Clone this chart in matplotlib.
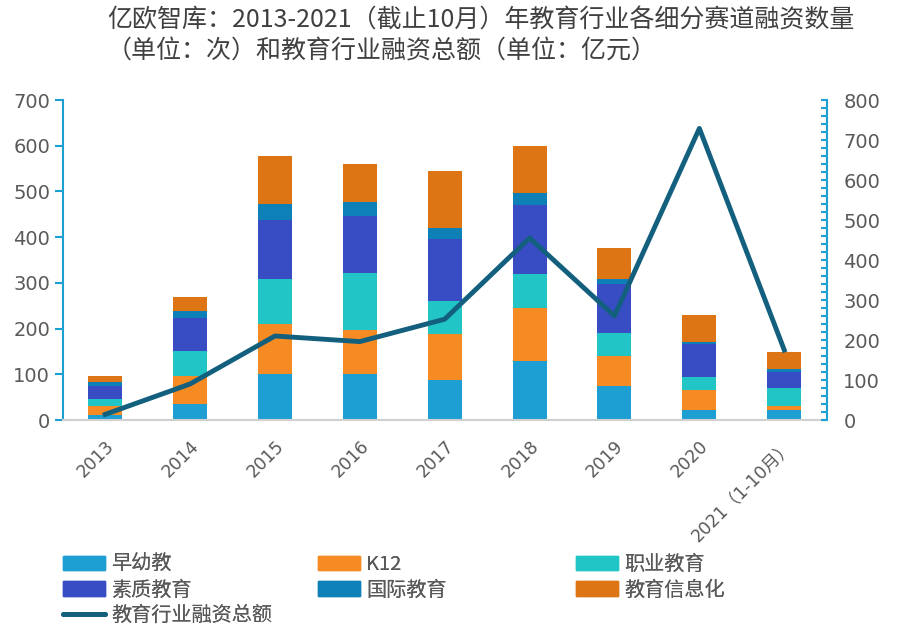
import numpy as np
import matplotlib.pyplot as plt
from matplotlib.lines import Line2D
from matplotlib.patches import Patch

plt.rcParams['font.family'] = ['Noto Sans CJK SC', 'DejaVu Sans']

years = ["2013", "2014", "2015", "2016", "2017", "2018", "2019", "2020", "2021（1-10月）"]
zaoyoujiao = [12, 36, 100, 100, 88, 130, 75, 22, 21]
k12 = [18, 60, 109, 96, 101, 114, 66, 43, 10]
zhiye = [17, 56, 100, 126, 72, 76, 50, 30, 40]
suzhi = [27, 71, 128, 124, 136, 151, 107, 71, 35]
guoji = [10, 15, 35, 30, 24, 26, 11, 5, 6]
xinxihua = [13, 32, 106, 85, 123, 103, 68, 59, 37]
total_amount = [14, 90, 210, 196, 252, 455, 260, 729, 175]

series = [zaoyoujiao, k12, zhiye, suzhi, guoji, xinxihua]
names = ["早幼教", "K12", "职业教育", "素质教育", "国际教育", "教育信息化"]
colors = ["#1E9FD4", "#F58B22", "#22C5C5", "#384CC4", "#0E80B8", "#DE7515"]
line_color = "#135F7E"
txt = "#595959"
num_font = ['DejaVu Sans', 'Noto Sans CJK SC']

fig = plt.figure(figsize=(9.1, 6.34), dpi=100)
ax = fig.add_axes([62.7 / 910, 1 - 420 / 634, (826.7 - 62.7) / 910, 320 / 634])

x = np.arange(len(years))
bottom = np.zeros(len(years))
for vals, c in zip(series, colors):
    ax.bar(x, vals, 0.4, bottom=bottom, color=c, zorder=2)
    bottom += np.array(vals)

ax.set_xlim(-0.5, 8.5)
ax.set_ylim(0, 700)
ax.set_yticks(range(0, 701, 100))
ax.set_xticks(x)
ax.set_xticklabels(years, rotation=45, ha="right", rotation_mode="anchor", family=num_font, fontsize=12.5)
ax.tick_params(axis="x", length=0, pad=12, labelcolor=txt)
ax.tick_params(axis="y", labelcolor=txt, color="#1E9FD4", length=5.5, width=1.5)
for lab in ax.get_yticklabels():
    lab.set_family(num_font)
    lab.set_fontsize(14)
ax.spines["top"].set_visible(False)
ax.spines["right"].set_visible(False)
ax.spines["left"].set_color("#1E9FD4")
ax.spines["left"].set_linewidth(1.5)
ax.spines["bottom"].set_color("#D0D0D0")
ax.spines["bottom"].set_linewidth(1.5)

ax2 = ax.twinx()
ax2.plot(x, total_amount, color=line_color, lw=3.5, zorder=3)
ax2.set_ylim(0, 800)
ax2.set_yticks(range(0, 801, 100))
ax2.set_yticks(range(0, 801, 20), minor=True)
ax2.tick_params(axis="y", which="both", direction="in", labelcolor=txt, color="#1E9FD4",
                length=4, width=1.5, pad=12)
for lab in ax2.get_yticklabels():
    lab.set_family(num_font)
    lab.set_fontsize(14)
for s in ["top", "left", "bottom"]:
    ax2.spines[s].set_visible(False)
ax2.spines["right"].set_color("#1E9FD4")
ax2.spines["right"].set_linewidth(1.5)

fig.text(107 / 910, 1 - 8 / 634,
         "亿欧智库：2013-2021（截止10月）年教育行业各细分赛道融资数量\n（单位：次）和教育行业融资总额（单位：亿元）",
         ha="left", va="top", fontsize=18, color="#404040", linespacing=1.25)

handles = [Patch(color=c) for c in colors] + [Line2D([0], [0], color=line_color, lw=3.5, solid_capstyle="round")]
labels = names + ["教育行业融资总额"]
columns = [[0, 3, 6], [1, 4], [2, 5]]
col_x = [49, 304, 562]
for idx, cx in zip(columns, col_x):
    leg = fig.legend([handles[i] for i in idx], [labels[i] for i in idx],
                     loc="upper left", bbox_to_anchor=(cx / 910, 1 - 540 / 634),
                     frameon=False, fontsize=14.5, labelcolor=txt, handlelength=2.1,
                     handleheight=0.7, handletextpad=0.3, labelspacing=0.22,
                     borderpad=0.2)
    fig.add_artist(leg)

fig.savefig("out.png", dpi=100)
